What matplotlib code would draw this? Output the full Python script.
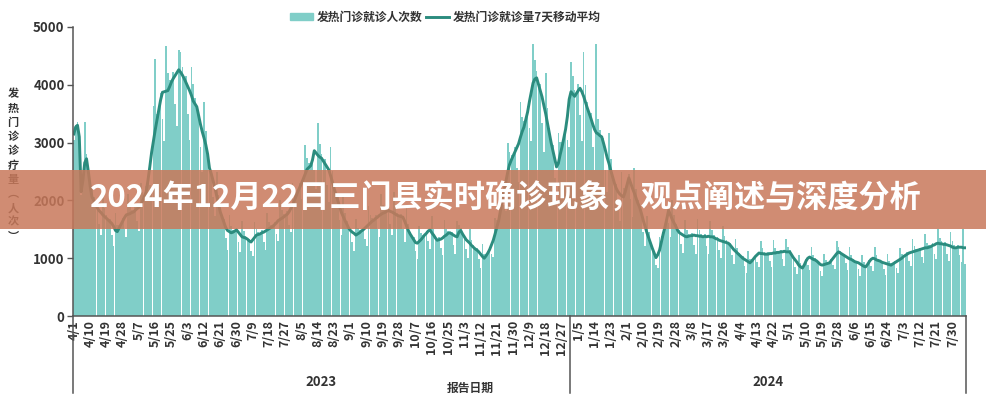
import matplotlib
matplotlib.use('Agg')
import matplotlib.pyplot as plt
import matplotlib.transforms as mtransforms
from matplotlib.patches import Rectangle, Patch
from matplotlib.lines import Line2D
import numpy as np
import pandas as pd

plt.rcParams['font.family'] = ['Noto Sans CJK SC', 'DejaVu Sans']

# 每日发热门诊就诊人次 (2023-04-01 起)
visits = [
    3050, 3300, 3350, 3100, 2100, 2300, 3350, 2800, 2500, 2200,
    2220, 2060, 1930, 1930, 1600, 1400, 2100, 1860, 1740, 1660,
    1680, 1410, 1210, 1780, 1580, 1570, 1580, 1690, 1500, 1370,
    2110, 1910, 1840, 1800, 1880, 1640, 1470, 2300, 2150, 2130,
    2250, 2420, 2270, 2210, 3640, 4450, 3500, 3570, 3850, 3410,
    3030, 4670, 4210, 4090, 4050, 4230, 3660, 3280, 4600, 4560,
    4300, 4110, 4160, 3490, 3040, 4300, 4020, 3780, 3620, 3570,
    2920, 2490, 3700, 3200, 2880, 2560, 2530, 2060, 1730, 2500,
    2100, 1850, 1710, 1670, 1350, 1150, 1750, 1560, 1490, 1470,
    1530, 1280, 1100, 1640, 1470, 1390, 1330, 1340, 1130, 1030,
    1630, 1510, 1450, 1420, 1480, 1280, 1150, 1790, 1630, 1580,
    1550, 1630, 1420, 1290, 2000, 1830, 1760, 1740, 1810, 1580,
    1450, 2300, 2160, 2140, 2160, 2300, 2020, 1860, 2950, 2740,
    2650, 2600, 2780, 2520, 2200, 3340, 2970, 2810, 2680, 2710,
    2270, 1970, 2920, 2510, 2270, 2100, 2060, 1660, 1400, 2060,
    1780, 1640, 1520, 1520, 1280, 1120, 1680, 1530, 1480, 1470,
    1530, 1340, 1210, 1900, 1740, 1690, 1660, 1740, 1500, 1360,
    2110, 1920, 1840, 1810, 1880, 1590, 1400, 2140, 1900, 1790,
    1730, 1770, 1500, 1280, 1870, 1600, 1460, 1370, 1360, 1120,
    980, 1550, 1430, 1400, 1400, 1470, 1290, 1160, 1730, 1510,
    1390, 1310, 1360, 1170, 1050, 1660, 1510, 1470, 1440, 1460,
    1230, 1080, 1640, 1570, 1520, 1420, 1410, 1160, 1010, 1510,
    1320, 1230, 1160, 1170, 980, 830, 1240, 1080, 1070, 1090,
    1180, 1080, 1020, 1700, 1660, 1700, 1830, 2070, 1920, 1820,
    2990, 2830, 2780, 2770, 2930, 2560, 2320, 3710, 3450, 3370,
    3400, 3640, 3260, 3020, 4700, 4430, 4240, 4010, 4020, 3340,
    2840, 4200, 3600, 3250, 3000, 2950, 2390, 2010, 3170, 3010,
    3010, 3080, 3330, 3040, 2930, 4400, 4150, 3910, 3850, 4020,
    3470, 3030, 4560, 4000, 3710, 3510, 3520, 2920, 2520, 4700,
    3400, 3210, 3100, 3080, 2530, 2140, 3170, 2720, 2480, 2300,
    2280, 1890, 1650, 2500, 2220, 2210, 2270, 2460, 2020, 1720,
    2560, 2200, 2010, 1880, 1820, 1450, 1210, 1730, 1460, 1300,
    1170, 1120, 890, 830, 1370, 1380, 1460, 1540, 1730, 1610,
    1370, 2000, 1740, 1600, 1480, 1480, 1250, 1090, 1660, 1480,
    1420, 1390, 1430, 1230, 1080, 1670, 1490, 1420, 1370, 1420,
    1210, 1080, 1640, 1480, 1400, 1340, 1370, 1150, 1010, 1550,
    1380, 1310, 1260, 1270, 1050, 900, 1340, 1180, 1090, 1030,
    1030, 860, 750, 1130, 990, 980, 990, 1060, 930, 850,
    1300, 1170, 1100, 1070, 1100, 950, 840, 1310, 1180, 1130,
    1100, 1140, 980, 870, 1330, 1200, 1140, 1060, 1040, 850,
    730, 1060, 920, 850, 880, 980, 880, 800, 1200, 1060,
    1000, 950, 950, 780, 690, 1070, 970, 940, 920, 990,
    880, 810, 1300, 1200, 1120, 1070, 1080, 910, 790, 1190,
    1060, 990, 940, 960, 810, 700, 1060, 930, 880, 890,
    970, 860, 780, 1190, 1050, 990, 950, 960, 810, 710,
    1080, 960, 910, 900, 950, 830, 750, 1180, 1080, 1060,
    1050, 1100, 960, 860, 1330, 1210, 1160, 1140, 1180, 1020,
    910, 1420, 1270, 1230, 1200, 1260, 1080, 980, 1510, 1350,
    1290, 1240, 1280, 1080, 950, 1450, 1290, 1220, 1180, 1230,
    1050, 930, 1500, 900,
]

# 7天移动平均
ma7 = [
    3150, 3270, 3300, 3100, 2150, 2350, 2650, 2720, 2500, 2250,
    2060, 2000, 1930, 1870, 1820, 1790, 1750, 1720, 1690, 1660,
    1630, 1600, 1550, 1480, 1460, 1520, 1580, 1640, 1700, 1750,
    1760, 1770, 1790, 1800, 1830, 1860, 1880, 1920, 1990, 2070,
    2150, 2350, 2580, 2830, 3030, 3220, 3400, 3570, 3740, 3870,
    3880, 3890, 3900, 3970, 4050, 4110, 4160, 4210, 4260, 4220,
    4170, 4110, 4040, 3970, 3900, 3820, 3720, 3670, 3620, 3470,
    3320, 3190, 3080, 2960, 2800, 2560, 2460, 2340, 2220, 2080,
    1940, 1800, 1710, 1620, 1530, 1480, 1460, 1440, 1450, 1470,
    1490, 1450, 1410, 1370, 1360, 1350, 1330, 1300, 1280, 1320,
    1360, 1400, 1410, 1420, 1440, 1450, 1470, 1490, 1510, 1530,
    1550, 1580, 1610, 1650, 1670, 1690, 1710, 1740, 1760, 1800,
    1860, 1920, 2000, 2080, 2160, 2230, 2300, 2380, 2460, 2540,
    2570, 2600, 2700, 2860, 2820, 2780, 2750, 2730, 2680, 2630,
    2580, 2530, 2430, 2320, 2200, 2100, 2000, 1890, 1790, 1720,
    1650, 1590, 1520, 1480, 1450, 1430, 1400, 1420, 1440, 1470,
    1490, 1520, 1550, 1580, 1610, 1640, 1660, 1690, 1710, 1740,
    1760, 1780, 1790, 1810, 1830, 1810, 1800, 1780, 1760, 1740,
    1730, 1720, 1710, 1640, 1560, 1480, 1420, 1370, 1320, 1270,
    1260, 1290, 1320, 1360, 1400, 1430, 1470, 1490, 1440, 1400,
    1350, 1310, 1320, 1330, 1350, 1380, 1400, 1430, 1440, 1420,
    1400, 1380, 1370, 1450, 1480, 1420, 1370, 1320, 1290, 1260,
    1220, 1190, 1160, 1140, 1110, 1070, 1030, 1000, 1040, 1090,
    1150, 1230, 1310, 1420, 1540, 1650, 1830, 2010, 2180, 2330,
    2490, 2620, 2700, 2770, 2840, 2910, 2980, 3090, 3190, 3270,
    3400, 3530, 3710, 3870, 4030, 4100, 4120, 4010, 3900, 3790,
    3640, 3500, 3330, 3160, 3000, 2860, 2720, 2580, 2640, 2790,
    2920, 3080, 3230, 3450, 3750, 3880, 3840, 3800, 3850, 3900,
    3940, 3880, 3800, 3700, 3600, 3510, 3420, 3320, 3230, 3170,
    3150, 3120, 3100, 2990, 2870, 2740, 2640, 2520, 2410, 2300,
    2210, 2150, 2110, 2080, 2060, 2150, 2270, 2390, 2300, 2210,
    2130, 2040, 1950, 1880, 1770, 1650, 1550, 1440, 1350, 1260,
    1170, 1090, 1010, 1060, 1140, 1280, 1420, 1540, 1680, 1830,
    1750, 1670, 1610, 1550, 1480, 1440, 1420, 1400, 1380, 1370,
    1380, 1390, 1390, 1400, 1390, 1390, 1380, 1380, 1370, 1380,
    1370, 1380, 1370, 1370, 1360, 1340, 1330, 1310, 1300, 1290,
    1280, 1270, 1260, 1230, 1190, 1150, 1120, 1090, 1060, 1030,
    1000, 980, 960, 940, 920, 950, 990, 1030, 1060, 1090,
    1080, 1080, 1070, 1070, 1070, 1080, 1080, 1090, 1090, 1100,
    1100, 1110, 1110, 1120, 1110, 1110, 1110, 1060, 1010, 970,
    930, 880, 850, 830, 880, 950, 1000, 1020, 1000, 980,
    970, 950, 920, 890, 880, 890, 900, 910, 920, 960,
    1000, 1040, 1080, 1110, 1090, 1070, 1050, 1030, 1010, 990,
    980, 960, 940, 930, 920, 900, 880, 860, 850, 890,
    940, 980, 1000, 990, 970, 960, 950, 930, 920, 910,
    900, 890, 880, 900, 920, 940, 960, 980, 1000, 1030,
    1050, 1070, 1090, 1100, 1110, 1120, 1130, 1140, 1150, 1160,
    1170, 1180, 1180, 1190, 1200, 1220, 1230, 1250, 1260, 1250,
    1250, 1240, 1240, 1230, 1220, 1210, 1190, 1180, 1180, 1190,
    1190, 1190, 1180, 1180,
]

tick_labels = ['4/1', '4/10', '4/19', '4/28', '5/7', '5/16', '5/25', '6/3', '6/12',
               '6/21', '6/30', '7/9', '7/18', '7/27', '8/5', '8/14', '8/23', '9/1',
               '9/10', '9/19', '9/28', '10/7', '10/16', '10/25', '11/3', '11/12',
               '11/21', '11/30', '12/9', '12/18', '12/27', '1/5', '1/14', '1/23',
               '2/1', '2/10', '2/19', '2/28', '3/8', '3/17', '3/26', '4/4', '4/13',
               '4/22', '5/1', '5/10', '5/19', '5/28', '6/6', '6/15', '6/24', '7/3',
               '7/12', '7/21', '7/30']
years = ['2023', '2024']
start_date = '2023-04-01'
year_break = '2024-01-01'

title = '2024年12月22日三门县实时确诊现象，观点阐述与深度分析'
ylabel = '发热门诊诊疗量︵人次︶'

bar_color = '#80cec8'
line_color = '#2b8c7e'
text_color = '#333333'

fig = plt.figure(figsize=(9.86, 4.0), dpi=100)
ax = fig.add_axes([0.074, 0.21, 0.9057, 0.7225])

days = np.arange(len(visits))
ax.bar(days, visits, width=0.92, color=bar_color, linewidth=0)
ax.plot(days, ma7, color=line_color, lw=2.1, solid_joinstyle='round')

ax.set_xlim(-0.5, len(visits) - 0.5)
ax.set_ylim(0, 5000)
ax.set_yticks(range(0, 5001, 1000))
ax.set_xticks(np.arange(len(tick_labels)) * 9)
ax.set_xticklabels(tick_labels, rotation=90, fontsize=9, fontweight='bold', color=text_color)
ax.tick_params(axis='x', length=0, pad=3)
ax.tick_params(axis='y', length=4, width=1, color='#555555', labelsize=9.5, labelcolor=text_color, pad=2)
for lab in ax.get_yticklabels():
    lab.set_fontweight('bold')

for s in ['top', 'right']:
    ax.spines[s].set_visible(False)
for s in ['left', 'bottom']:
    ax.spines[s].set_color('#555555')
    ax.spines[s].set_linewidth(1.1)

# 年份分组线
split = (pd.Timestamp(year_break) - pd.Timestamp(start_date)).days - 0.5
trans = mtransforms.blended_transform_factory(ax.transData, ax.transAxes)
for xv in [-0.5, split, len(visits) - 0.5]:
    ax.plot([xv, xv], [0, -0.266], transform=trans, color='#555555', lw=1.1, clip_on=False)
ax.text((-0.5 + split) / 2, -0.228, years[0], transform=trans, ha='center', va='center',
        fontsize=9.5, fontweight='bold', color=text_color)
ax.text((split + len(visits) - 0.5) / 2, -0.228, years[1], transform=trans, ha='center', va='center',
        fontsize=9.5, fontweight='bold', color=text_color)
fig.text(470 / 986, 1 - 388 / 400, '报告日期', ha='center', va='center',
         fontsize=8.5, fontweight='bold', color=text_color)

# 纵轴标题（竖排）
fig.text(13 / 986, 1 - 165 / 400, '\n'.join(ylabel), ha='center', va='center',
         fontsize=8, fontweight='bold', color=text_color, linespacing=1.12)

# 图例
handles = [Patch(color=bar_color), Line2D([0], [0], color=line_color, lw=2.1)]
fig.legend(handles, ['发热门诊就诊人次数', '发热门诊就诊量7天移动平均'], loc='center',
           bbox_to_anchor=(0.452, 1 - 17 / 400), ncol=2, frameon=False,
           prop={'size': 8.5, 'weight': 'bold'}, handlelength=1.9, handleheight=0.6,
           handletextpad=0.35, columnspacing=0.3, labelcolor=text_color)

# 标题横幅
fig.patches.append(Rectangle((0, 1 - 229 / 400), 1, 59 / 400, transform=fig.transFigure,
                             facecolor=(200 / 255, 120 / 255, 90 / 255), alpha=0.85,
                             edgecolor='none', zorder=5))
fig.text(506 / 986, 1 - 199 / 400, title, ha='center', va='center', fontsize=22.4,
         fontweight='bold', color='white', zorder=6)

fig.savefig('out.png', dpi=100)
